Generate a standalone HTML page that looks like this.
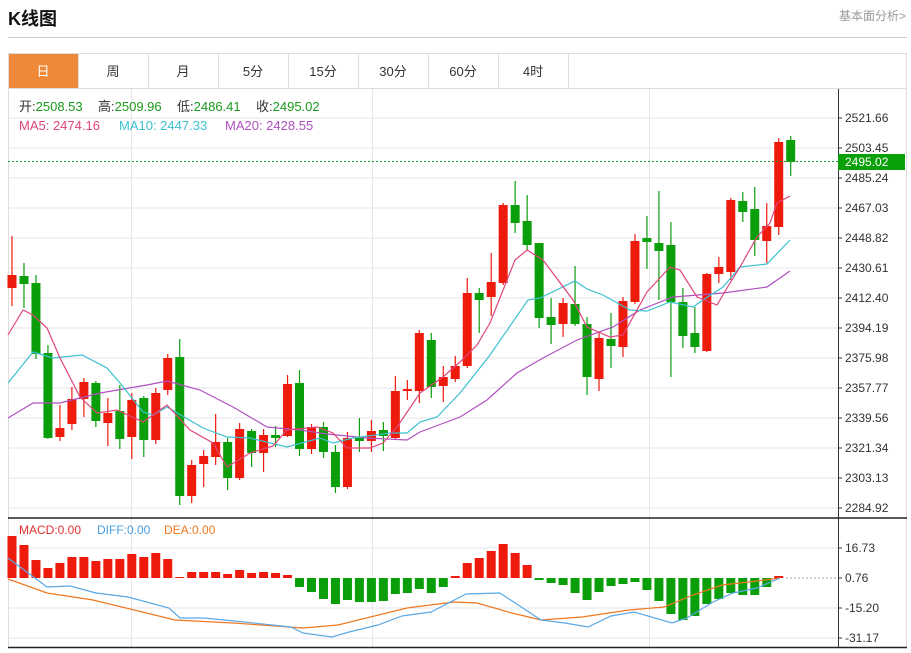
<!DOCTYPE html>
<html><head><meta charset="utf-8"><style>
html,body{margin:0;padding:0;background:#fff;width:911px;height:653px;overflow:hidden;font-family:"Liberation Sans","Noto Sans CJK SC",sans-serif}
svg{position:absolute;left:0;top:0}
</style></head><body>
<svg id="s" width="911" height="653" xmlns="http://www.w3.org/2000/svg" font-family="Liberation Sans, Noto Sans CJK SC, sans-serif">
<text x="8" y="25" font-size="18" font-weight="bold" fill="#111">K线图</text>
<text x="906" y="20" font-size="12" fill="#999" text-anchor="end">基本面分析&gt;</text>
<line x1="8" y1="37.5" x2="907" y2="37.5" stroke="#ccc"/>
<rect x="8.5" y="53.5" width="898" height="594" fill="none" stroke="#ddd"/>
<line x1="8" y1="88.5" x2="907" y2="88.5" stroke="#ddd"/>
<rect x="9" y="54" width="69" height="34" fill="#f0883a"/>
<g stroke="#ddd"><line x1="78.5" y1="54" x2="78.5" y2="88"/><line x1="148.5" y1="54" x2="148.5" y2="88"/><line x1="218.5" y1="54" x2="218.5" y2="88"/><line x1="288.5" y1="54" x2="288.5" y2="88"/><line x1="358.5" y1="54" x2="358.5" y2="88"/><line x1="428.5" y1="54" x2="428.5" y2="88"/><line x1="498.5" y1="54" x2="498.5" y2="88"/><line x1="568.5" y1="54" x2="568.5" y2="88"/></g>
<g font-size="13" text-anchor="middle" fill="#333"><text x="43" y="76" fill="#fff">日</text><text x="113" y="76">周</text><text x="183" y="76">月</text><text x="253" y="76">5分</text><text x="323" y="76">15分</text><text x="393" y="76">30分</text><text x="463" y="76">60分</text><text x="533" y="76">4时</text></g>
<g stroke="#e6e6ee"><line x1="8" y1="118" x2="838" y2="118"/><line x1="8" y1="148" x2="838" y2="148"/><line x1="8" y1="178" x2="838" y2="178"/><line x1="8" y1="208" x2="838" y2="208"/><line x1="8" y1="238" x2="838" y2="238"/><line x1="8" y1="268" x2="838" y2="268"/><line x1="8" y1="298" x2="838" y2="298"/><line x1="8" y1="328" x2="838" y2="328"/><line x1="8" y1="358" x2="838" y2="358"/><line x1="8" y1="388" x2="838" y2="388"/><line x1="8" y1="418" x2="838" y2="418"/><line x1="8" y1="448" x2="838" y2="448"/><line x1="8" y1="478" x2="838" y2="478"/><line x1="8" y1="508" x2="838" y2="508"/>
<line x1="8" y1="548" x2="838" y2="548"/><line x1="8" y1="608" x2="838" y2="608"/><line x1="8" y1="638" x2="838" y2="638"/>
<line x1="131.5" y1="89" x2="131.5" y2="647"/><line x1="372.5" y1="89" x2="372.5" y2="647"/><line x1="649.5" y1="89" x2="649.5" y2="647"/></g>
<line x1="838.5" y1="89" x2="838.5" y2="648" stroke="#333"/>
<line x1="8" y1="518" x2="907" y2="518" stroke="#222" stroke-width="1.5"/>
<line x1="8" y1="647.5" x2="907" y2="647.5" stroke="#222" stroke-width="1.5"/>
<g font-size="12" fill="#333"><g stroke="#333">
<line x1="838" y1="118" x2="842" y2="118"/><line x1="838" y1="148" x2="842" y2="148"/><line x1="838" y1="178" x2="842" y2="178"/><line x1="838" y1="208" x2="842" y2="208"/><line x1="838" y1="238" x2="842" y2="238"/><line x1="838" y1="268" x2="842" y2="268"/><line x1="838" y1="298" x2="842" y2="298"/><line x1="838" y1="328" x2="842" y2="328"/><line x1="838" y1="358" x2="842" y2="358"/><line x1="838" y1="388" x2="842" y2="388"/><line x1="838" y1="418" x2="842" y2="418"/><line x1="838" y1="448" x2="842" y2="448"/><line x1="838" y1="478" x2="842" y2="478"/><line x1="838" y1="508" x2="842" y2="508"/><line x1="838" y1="548" x2="842" y2="548"/><line x1="838" y1="578" x2="842" y2="578"/><line x1="838" y1="608" x2="842" y2="608"/><line x1="838" y1="638" x2="842" y2="638"/></g>
<text x="845" y="122">2521.66</text><text x="845" y="152">2503.45</text><text x="845" y="182">2485.24</text><text x="845" y="212">2467.03</text><text x="845" y="242">2448.82</text><text x="845" y="272">2430.61</text><text x="845" y="302">2412.40</text><text x="845" y="332">2394.19</text><text x="845" y="362">2375.98</text><text x="845" y="392">2357.77</text><text x="845" y="422">2339.56</text><text x="845" y="452">2321.34</text><text x="845" y="482">2303.13</text><text x="845" y="512">2284.92</text>
<text x="845" y="552">16.73</text><text x="845" y="582">0.76</text><text x="845" y="612">-15.20</text><text x="845" y="642">-31.17</text></g>
<g id="g"></g>
<line x1="8" y1="161.5" x2="838" y2="161.5" stroke="#1aa01a" stroke-dasharray="2,2"/>
<rect x="838" y="154" width="67" height="16" fill="#0aa00a"/>
<text x="845" y="166" font-size="12" fill="#fff">2495.02</text>
<g font-size="13">
<text x="19" y="111"><tspan fill="#333">开:</tspan><tspan fill="#1a9a1a">2508.53</tspan></text>
<text x="98" y="111"><tspan fill="#333">高:</tspan><tspan fill="#1a9a1a">2509.96</tspan></text>
<text x="177" y="111"><tspan fill="#333">低:</tspan><tspan fill="#1a9a1a">2486.41</tspan></text>
<text x="256" y="111"><tspan fill="#333">收:</tspan><tspan fill="#1a9a1a">2495.02</tspan></text>
<text x="19" y="130" fill="#e0457b">MA5: 2474.16</text>
<text x="119" y="130" fill="#3cc0d0">MA10: 2447.33</text>
<text x="225" y="130" fill="#b050c0">MA20: 2428.55</text></g>
<g font-size="12"><text x="19" y="534" fill="#e03030">MACD:0.00</text><text x="97" y="534" fill="#4aa0e0">DIFF:0.00</text><text x="164" y="534" fill="#f07820">DEA:0.00</text></g>
</svg>
<script>
var R="#ee1a0c",G="#0a9e0a";
var c=[[1,275,288,236,306],[0,276,284,263,308],[0,283,354,275,359],[0,353,438,345,439],[1,428,437,405,441],[1,399,424,387,430],[1,382,399,378,417],[0,383,421,381,427],[1,413,423,398,446],[0,411,439,385,449],[1,400,437,393,459],[0,398,440,396,457],[1,393,440,388,444],[1,358,390,354,395],[0,357,496,339,505],[1,465,496,460,503],[1,456,464,450,487],[1,442,457,414,465],[0,442,478,438,490],[1,429,478,423,480],[0,431,453,429,467],[1,435,453,429,472],[0,435,438,426,447],[1,384,436,375,437],[0,383,449,370,456],[1,427,449,424,454],[0,427,452,422,458],[0,452,487,445,493],[1,438,487,432,489],[0,438,441,418,452],[1,431,441,420,452],[0,430,436,422,451],[1,391,438,376,440],[1,389,391,380,400],[1,333,391,330,403],[0,340,387,333,398],[1,377,386,366,402],[1,366,379,356,382],[1,293,366,278,368],[0,293,300,288,333],[1,282,297,253,316],[1,205,283,203,285],[0,205,223,181,233],[0,221,245,195,250],[0,243,318,243,328],[0,317,325,298,344],[1,303,324,298,337],[0,304,324,266,326],[0,324,377,317,395],[1,338,379,333,391],[0,339,346,313,368],[1,301,347,297,357],[1,241,302,234,304],[0,238,242,216,269],[0,243,251,191,300],[0,245,302,222,377],[0,302,336,288,348],[0,333,347,307,353],[1,274,351,273,352],[1,267,274,257,283],[1,200,272,198,280],[0,201,212,192,222],[0,209,240,187,256],[1,226,241,203,263],[1,142,227,138,235],[0,140,162,136,176]];
var h="";
c.forEach(function(d,i){var x=12+11.98*i,col=d[0]?R:G;
h+='<line x1="'+x+'" y1="'+d[3]+'" x2="'+x+'" y2="'+d[4]+'" stroke="'+col+'" stroke-width="1.2"/>';
h+='<rect x="'+(x-4.5)+'" y="'+d[1]+'" width="9" height="'+Math.max(2,d[2]-d[1])+'" fill="'+col+'"/>';});
function pl(p,col){return '<polyline fill="none" stroke="'+col+'" stroke-width="1.2" points="'+p+'"/>';}
h+=pl("8,418 33,403 60,403 100,393 147,385 167,381 200,390 233,407 267,427 300,430 327,434 367,438 407,440 420,432 460,417 487,400 517,373 543,358 577,340 613,327 640,310 673,297 723,293 767,287 790,271","#b050c0");
h+=pl("8,383 33,352 53,358 82,355 107,368 120,383 143,412 153,415 167,407 203,428 227,437 250,438 287,447 320,438 333,443 353,438 390,433 407,433 420,422 437,417 460,393 490,355 528,300 540,298 575,281 587,289 603,295 630,310 647,311 670,302 693,307 703,300 723,287 740,267 767,264 790,240","#3cc0d0");
h+=pl("8,335 23,310 33,315 47,328 60,358 80,397 97,413 117,410 143,422 167,405 190,430 213,443 227,467 250,453 273,446 287,430 317,427 333,433 347,448 370,448 383,443 397,427 420,393 443,377 460,362 477,345 490,323 515,260 527,250 543,260 573,300 587,327 610,337 623,335 647,292 670,267 680,270 697,297 717,305 730,283 740,267 757,237 770,223 777,203 790,196","#e0457b");
var m=[536,545,560,568,563,557,557,561,559,559,554,557,553,559,577,572,572,572,574,570,573,572,573,575,587,592,599,604,600,602,602,601,594,593,589,593,587,576,563,558,551,544,553,565,580,583,585,593,600,592,586,584,582,590,601,614,620,616,604,599,593,595,595,587,576];
m.forEach(function(y,i){var x=12+11.98*i,t=Math.min(y,578),b=Math.max(y,578);
h+='<rect x="'+(x-4.5)+'" y="'+t+'" width="9" height="'+Math.max(1,b-t)+'" fill="'+(y<578?R:G)+'"/>';});
h+='<line x1="786" y1="578" x2="838" y2="578" stroke="#9ab" stroke-dasharray="2,2"/>';
h+=pl("8,579 47,593 93,600 175,620 233,623 303,628 338,625 407,608 454,602 477,603 512,613 541,620 582,617 629,610 664,607 693,595 722,585 757,581 780,578","#f07820");
h+=pl("8,558 47,587 70,586 96,593 128,597 169,608 180,618 204,618 244,622 291,627 303,633 332,637 349,632 378,625 402,616 431,612 466,594 500,593 541,620 565,623 588,627 611,616 634,612 672,623 687,618 713,602 733,593 757,588 780,578","#5aa9e6");
document.getElementById("g").innerHTML=h;
</script>
</body></html>
